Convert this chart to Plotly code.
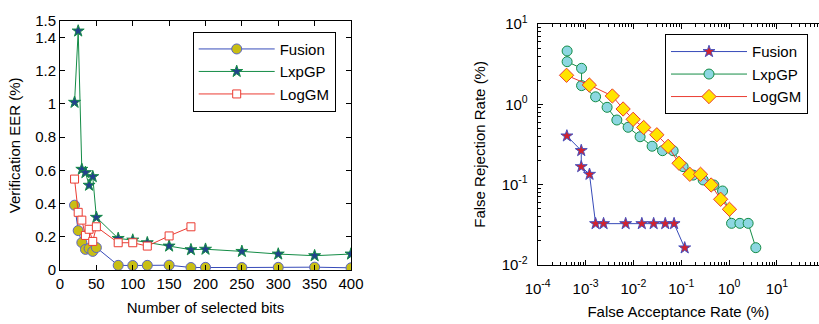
import plotly.graph_objects as go

# ---------------- Left chart data ----------------
bits_fusion = [20, 25, 30, 35, 40, 45, 50, 80, 100, 120, 150, 180, 200, 250, 300, 350, 400]
eer_fusion = [0.39, 0.237, 0.165, 0.124, 0.13, 0.112, 0.135, 0.028, 0.027, 0.028, 0.029, 0.015, 0.016, 0.015, 0.016, 0.017, 0.013]
bits_lxpgp = [20, 25, 30, 35, 40, 45, 50, 80, 100, 120, 150, 180, 200, 250, 300, 350, 400]
eer_lxpgp = [1.009, 1.438, 0.606, 0.586, 0.51, 0.562, 0.317, 0.19, 0.18, 0.164, 0.144, 0.122, 0.125, 0.112, 0.096, 0.086, 0.096]
bits_loggm = [20, 25, 30, 35, 40, 45, 50, 80, 100, 120, 150, 180]
eer_loggm = [0.547, 0.347, 0.30, 0.208, 0.245, 0.172, 0.26, 0.164, 0.164, 0.144, 0.205, 0.26]

left_xticks = [0, 50, 100, 150, 200, 250, 300, 350, 400]
left_yticks = [0, 0.2, 0.4, 0.6, 0.8, 1.0, 1.2, 1.4, 1.5]
left_ytext = ["0", "0.2", "0.4", "0.6", "0.8", "1", "1.2", "1.4", "1.5"]

# ---------------- Right chart data ----------------
far_fusion = [4.07e-4, 8.13e-4, 8.13e-4, 1.21e-3, 1.62e-3, 2.38e-3, 6.89e-3, 0.0150, 0.0265, 0.0463, 0.0708, 0.118]
frr_fusion = [0.403, 0.265, 0.167, 0.134, 0.0325, 0.0325, 0.0325, 0.0325, 0.0325, 0.0325, 0.0325, 0.0162]
far_lxpgp = [4.12e-4, 4.12e-4, 8.25e-4, 8.25e-4, 1.62e-3, 2.82e-3, 4.51e-3, 7.76e-3, 0.0138, 0.0246, 0.0406,
             0.0677, 0.1096, 0.1774, 0.287, 0.48, 0.73, 1.125, 1.68, 2.5, 3.62]
frr_lxpgp = [4.62, 3.40, 2.81, 1.71, 1.24, 0.917, 0.637, 0.517, 0.394, 0.300, 0.264,
             0.264, 0.167, 0.131, 0.114, 0.0986, 0.083, 0.0328, 0.0328, 0.0328, 0.0163]
far_loggm = [4.01e-4, 1.20e-3, 3.63e-3, 6.10e-3, 9.89e-3, 0.0164, 0.0309, 0.0532, 0.0899, 0.151, 0.253, 0.422, 0.666, 1.016]
frr_loggm = [2.30, 1.74, 1.27, 0.874, 0.650, 0.514, 0.417, 0.299, 0.184, 0.134, 0.134, 0.0986, 0.0654, 0.0491]

right_xticks = [1e-4, 1e-3, 1e-2, 1e-1, 1e0, 1e1]
right_xtext = ["10<sup>-4</sup>", "10<sup>-3</sup>", "10<sup>-2</sup>", "10<sup>-1</sup>", "10<sup>0</sup>", "10<sup>1</sup>"]
right_yticks = [1e-2, 1e-1, 1e0, 1e1]
right_ytext = ["10<sup>-2</sup>", "10<sup>-1</sup>", "10<sup>0</sup>", "10<sup>1</sup>"]

BLUE = "rgb(55,75,185)"
GREEN = "rgb(20,140,70)"
RED = "rgb(235,60,50)"
FONT = "Liberation Sans, Arial, sans-serif"

fig = go.Figure()

# Left chart traces
fig.add_trace(go.Scatter(x=bits_fusion, y=eer_fusion, name="Fusion", mode="lines+markers",
                         line=dict(color=BLUE, width=1),
                         marker=dict(symbol="circle", size=10, color="rgb(200,190,20)",
                                     line=dict(color="rgb(90,100,200)", width=1)),
                         xaxis="x", yaxis="y", legend="legend"))
fig.add_trace(go.Scatter(x=bits_lxpgp, y=eer_lxpgp, name="LxpGP", mode="lines+markers",
                         line=dict(color=GREEN, width=1),
                         marker=dict(symbol="star", size=9, color="rgb(35,65,140)",
                                     line=dict(color=GREEN, width=1)),
                         xaxis="x", yaxis="y", legend="legend"))
fig.add_trace(go.Scatter(x=bits_loggm, y=eer_loggm, name="LogGM", mode="lines+markers",
                         line=dict(color=RED, width=1),
                         marker=dict(symbol="square", size=8, color="white",
                                     line=dict(color=RED, width=1)),
                         xaxis="x", yaxis="y", legend="legend"))

# Right chart traces
fig.add_trace(go.Scatter(x=far_fusion, y=frr_fusion, name="Fusion", mode="lines+markers",
                         line=dict(color=BLUE, width=1),
                         marker=dict(symbol="star", size=9, color="rgb(210,35,45)",
                                     line=dict(color="rgb(70,80,190)", width=1)),
                         xaxis="x2", yaxis="y2", legend="legend2"))
fig.add_trace(go.Scatter(x=far_lxpgp, y=frr_lxpgp, name="LxpGP", mode="lines+markers",
                         line=dict(color=GREEN, width=1),
                         marker=dict(symbol="circle", size=10, color="rgb(140,215,225)",
                                     line=dict(color=GREEN, width=1)),
                         xaxis="x2", yaxis="y2", legend="legend2"))
fig.add_trace(go.Scatter(x=far_loggm, y=frr_loggm, name="LogGM", mode="lines+markers",
                         line=dict(color=RED, width=1),
                         marker=dict(symbol="diamond", size=11, color="rgb(255,228,0)",
                                     line=dict(color=RED, width=1)),
                         xaxis="x2", yaxis="y2", legend="legend2"))

W, H = 819, 324
axis_common = dict(showline=True, linecolor="black", linewidth=1, ticks="inside", ticklen=5,
                   tickcolor="black", showgrid=False, zeroline=False, automargin=False,
                   tickfont=dict(family=FONT, size=15, color="black"))
minor_log = dict(ticks="inside", ticklen=3, tickcolor="black", dtick="D1", showgrid=False)

fig.update_layout(
    template="none",
    width=W, height=H, margin=dict(l=0, r=0, t=0, b=0, autoexpand=False),
    paper_bgcolor="white", plot_bgcolor="white",
    font=dict(family=FONT, size=15, color="black"),
    xaxis=dict(domain=[60 / W, 351 / W], range=[0, 400], tickvals=left_xticks,
               mirror="ticks", anchor="y",
               title=dict(text="Number of selected bits", standoff=11,
                          font=dict(family=FONT, size=15)),
               **axis_common),
    yaxis=dict(domain=[(H - 270) / H, (H - 20.7) / H], range=[0, 1.5], tickvals=left_yticks,
               ticktext=left_ytext, mirror="ticks", anchor="x",
               title=dict(text="Verification EER (%)", standoff=10,
                          font=dict(family=FONT, size=15)),
               **axis_common),
    xaxis2=dict(domain=[537.7 / W, 1.0], type="log", range=[-4, -4 + (W - 537.7) / 47.85],
                tickvals=right_xticks, ticktext=right_xtext, mirror="ticks", anchor="y2",
                minor=minor_log, ticklabelstandoff=10,
                title=dict(text="False Acceptance Rate (%)", standoff=10,
                           font=dict(family=FONT, size=15)),
                **axis_common),
    yaxis2=dict(domain=[(H - 264.7) / H, (H - 24.1) / H], type="log", range=[-2, 1],
                tickvals=right_yticks, ticktext=right_ytext, mirror=False, anchor="x2",
                minor=minor_log, ticklabelstandoff=6,
                title=dict(text="False Rejection Rate (%)", standoff=12,
                           font=dict(family=FONT, size=15)),
                **axis_common),
    legend=dict(x=192.7 / W, y=(H - 31.7) / H, xanchor="left", yanchor="top",
                bordercolor="black", borderwidth=1, bgcolor="white",
                font=dict(family=FONT, size=15), itemwidth=76, tracegroupgap=0),
    legend2=dict(x=665 / W, y=(H - 34.3) / H, xanchor="left", yanchor="top",
                 bordercolor="black", borderwidth=1, bgcolor="white",
                 font=dict(family=FONT, size=15), itemwidth=76, tracegroupgap=0),
    showlegend=True,
)

fig.write_html("out.html", config={"displayModeBar": False},
               post_script="document.body.style.margin='0px';document.body.style.padding='0px';")
